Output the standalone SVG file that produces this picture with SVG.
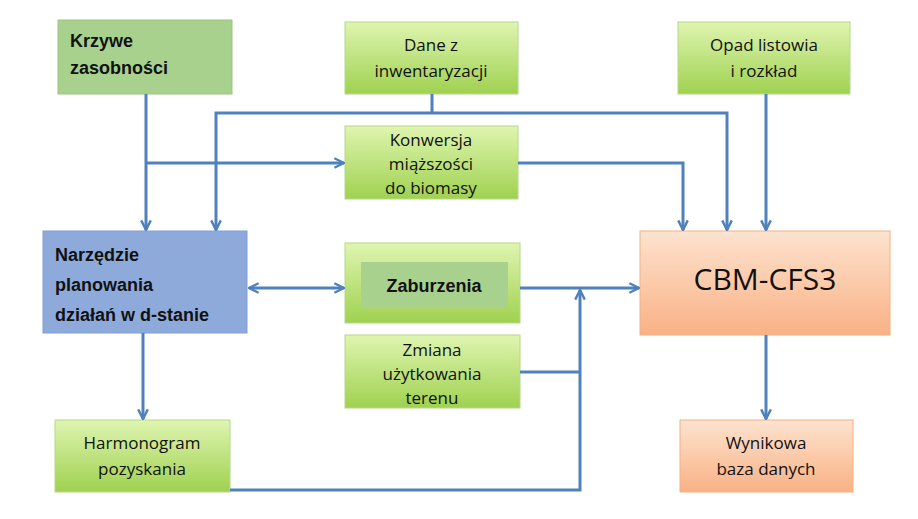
<svg xmlns="http://www.w3.org/2000/svg" width="918" height="519" viewBox="0 0 918 519">
<defs>
<linearGradient id="g" x1="0" y1="0" x2="0" y2="1"><stop offset="0" stop-color="#dff5b0"/><stop offset="1" stop-color="#9fd150"/></linearGradient>
<linearGradient id="o" x1="0" y1="0" x2="0" y2="1"><stop offset="0" stop-color="#fde3cf"/><stop offset="1" stop-color="#f9b185"/></linearGradient>
<marker id="a" viewBox="0 0 10 10" refX="9" refY="5" markerWidth="4" markerHeight="4" orient="auto-start-reverse"><path d="M1,1 L9,5 L1,9" fill="none" stroke="#4f81bd" stroke-width="2"/></marker>
</defs>
<style>
.n{fill:url(#g);stroke:#b6d88a;stroke-width:1}
.t{font-family:"Open Sans","DejaVu Sans",sans-serif;font-size:17px;fill:#111;text-anchor:middle}
.b{font-family:"Liberation Sans Narrow","Liberation Sans",sans-serif;font-weight:bold;font-size:18px;fill:#111}
.c{fill:none;stroke:#4f81bd;stroke-width:3}
</style>
<rect width="918" height="519" fill="#fff"/>
<g id="krzywe"><rect x="58" y="20" width="174" height="74" fill="#a9d18e" stroke="#9cc57f"/><text class="b" x="70" y="47">Krzywe</text><text class="b" x="70" y="74">zasobności</text></g>
<g id="dane"><rect class="n" x="345" y="22" width="173" height="72"/><text class="t" x="431" y="51">Dane z</text><text class="t" x="431" y="77">inwentaryzacji</text></g>
<g id="opad"><rect class="n" x="678" y="22" width="172" height="72"/><text class="t" x="764" y="51">Opad listowia</text><text class="t" x="764" y="77">i rozkład</text></g>
<g id="konwersja"><rect class="n" x="345" y="126" width="173" height="73"/><text class="t" x="431" y="146">Konwersja</text><text class="t" x="431" y="170">miąższości</text><text class="t" x="431" y="194">do biomasy</text></g>
<g id="narzedzie"><rect x="43" y="231" width="204" height="102" fill="#8eaadb" stroke="#7f9fd6"/><text class="b" x="55" y="261">Narzędzie</text><text class="b" x="55" y="291">planowania</text><text class="b" x="55" y="321">działań w d-stanie</text></g>
<g id="zaburzenia"><rect class="n" x="345" y="243" width="175" height="80"/><rect x="361" y="262" width="147" height="46" fill="#a9d18e"/><text class="b" x="434" y="292" text-anchor="middle" font-size="20">Zaburzenia</text></g>
<g id="zmiana"><rect class="n" x="345" y="335" width="175" height="73"/><text class="t" x="432" y="356">Zmiana</text><text class="t" x="432" y="380">użytkowania</text><text class="t" x="432" y="404">terenu</text></g>
<g id="harmonogram"><rect class="n" x="55" y="420" width="175" height="72"/><text class="t" x="142" y="449">Harmonogram</text><text class="t" x="142" y="475">pozyskania</text></g>
<g id="cbm"><rect x="640" y="231" width="250" height="104" fill="url(#o)" stroke="#f4b183"/><text x="765" y="290" text-anchor="middle" font-family="'Open Sans','DejaVu Sans',sans-serif" font-size="30" fill="#111">CBM-CFS3</text></g>
<g id="wynikowa"><rect x="680" y="420" width="173" height="72" fill="url(#o)" stroke="#f4b183"/><text class="t" x="766" y="449">Wynikowa</text><text class="t" x="766" y="475">baza danych</text></g>
<g id="connectors">
<path class="c" d="M146,94 V230" marker-end="url(#a)"/>
<path class="c" d="M146,163 H344" marker-end="url(#a)"/>
<path class="c" d="M432,94 V113"/>
<path class="c" d="M216,230 V113 H727 V230" marker-start="url(#a)" marker-end="url(#a)"/>
<path class="c" d="M518,163 H683 V230" marker-end="url(#a)"/>
<path class="c" d="M766,94 V230" marker-end="url(#a)"/>
<path class="c" d="M249,288 H344" marker-start="url(#a)" marker-end="url(#a)"/>
<path class="c" d="M520,288 H639" marker-end="url(#a)"/>
<path class="c" d="M520,372 H580"/>
<path class="c" d="M230,490 H580 V290" marker-end="url(#a)"/>
<path class="c" d="M143,333 V419" marker-end="url(#a)"/>
<path class="c" d="M766,335 V419" marker-end="url(#a)"/>
</g>
</svg>
